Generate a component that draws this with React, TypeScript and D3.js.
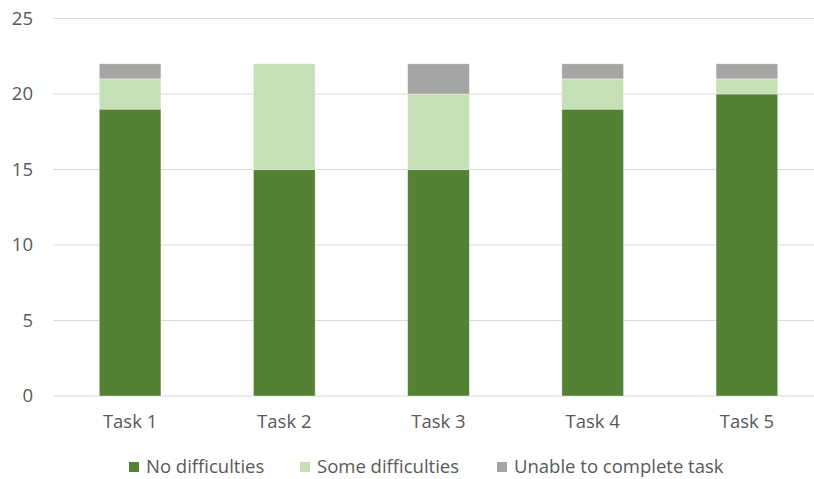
import React from "react";
import * as d3 from "d3";

const tasks = ["Task 1", "Task 2", "Task 3", "Task 4", "Task 5"];
const seriesNames = ["No difficulties", "Some difficulties", "Unable to complete task"];
const noDifficulties = [19, 15, 15, 19, 20];
const someDifficulties = [2, 7, 5, 2, 1];
const unableToComplete = [1, 0, 2, 1, 1];
const yTicks = [0, 5, 10, 15, 20, 25];

const colors = ["#548235", "#C5E0B4", "#A5A5A5"];

const W = 814;
const H = 479;
const FONT = "'Open Sans', sans-serif";
const TEXT = "#595959";
const FS = 18.5;

export default function App() {
  const rows = tasks.map((t, i) => ({
    task: t,
    [seriesNames[0]]: noDifficulties[i],
    [seriesNames[1]]: someDifficulties[i],
    [seriesNames[2]]: unableToComplete[i],
  }));
  const stack = d3.stack<any>().keys(seriesNames)(rows);

  const x = d3.scaleBand().domain(tasks).range([53, 824]).paddingInner(0.6).paddingOuter(0.3);
  const y = d3.scaleLinear().domain([0, 25]).range([396, 18.5]);

  const legendX = [129, 300, 497];

  return (
    <svg width={W} height={H} style={{ position: "absolute", left: 0, top: 0, background: "#fff" }}>
      {yTicks.map((t) => (
        <g key={t}>
          <line x1={53} x2={W} y1={y(t)} y2={y(t)} stroke="#D9D9D9" strokeWidth={1} />
          <text x={33} y={y(t)} dy="0.35em" textAnchor="end" fontFamily={FONT} fontSize={FS} fill={TEXT}>
            {t}
          </text>
        </g>
      ))}
      {stack.map((s, si) => (
        <g key={s.key} fill={colors[si]}>
          {s.map((d, i) =>
            d[1] > d[0] ? (
              <rect
                key={i}
                x={x(tasks[i])!}
                width={x.bandwidth()}
                y={y(d[1])}
                height={y(d[0]) - y(d[1])}
                stroke="#ffffff"
                strokeOpacity={0.5}
                strokeWidth={0.75}
              />
            ) : null
          )}
        </g>
      ))}
      {tasks.map((t) => (
        <text key={t} x={x(t)! + x.bandwidth() / 2} y={422} dy="0.35em" textAnchor="middle" fontFamily={FONT} fontSize={FS} fill={TEXT}>
          {t}
        </text>
      ))}
      {seriesNames.map((n, i) => (
        <g key={n} transform={`translate(${legendX[i]},467)`}>
          <rect x={0} y={-5} width={10} height={10} fill={colors[i]} />
          <text x={17} y={0} dy="0.35em" fontFamily={FONT} fontSize={FS} fill={TEXT}>
            {n}
          </text>
        </g>
      ))}
    </svg>
  );
}
